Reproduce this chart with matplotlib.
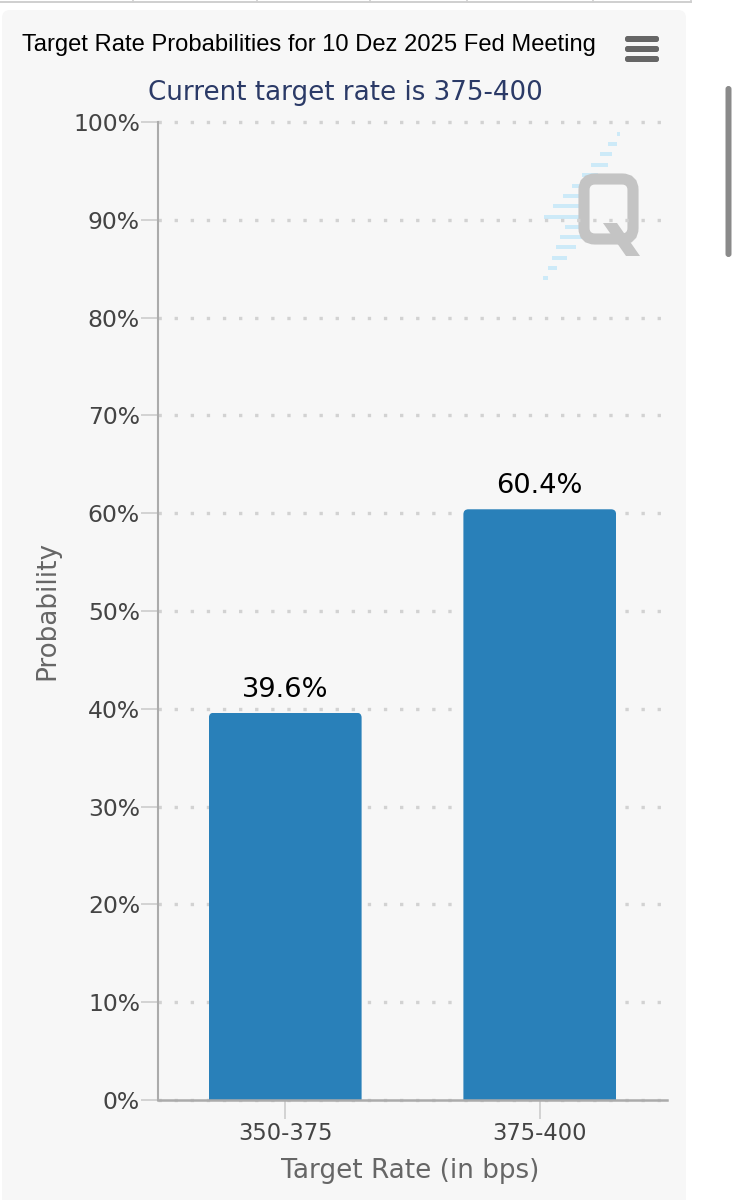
import matplotlib
matplotlib.use('Agg')
import matplotlib.pyplot as plt
from matplotlib.patches import FancyBboxPatch, Polygon, Rectangle

# Данные графика
categories = ['350-375', '375-400']
probabilities = [39.6, 60.4]
bar_labels = ['39.6%', '60.4%']
y_ticks = [0, 10, 20, 30, 40, 50, 60, 70, 80, 90, 100]
y_tick_labels = ['0%', '10%', '20%', '30%', '40%', '50%', '60%', '70%', '80%', '90%', '100%']

title = 'Target Rate Probabilities for 10 Dez 2025 Fed Meeting'
subtitle = 'Current target rate is 375-400'
x_label = 'Target Rate (in bps)'
y_label = 'Probability'

# Полоски логотипа: y, x0, x1 (в пикселях)
logo_stripes = [
    (134, 617, 620), (144, 608, 617), (154, 600, 612), (165, 591, 608),
    (175, 582, 598), (186, 572, 583), (196, 563, 580), (206, 553, 579),
    (217, 544, 579), (227, 565, 579), (237, 560, 582), (247, 556, 576),
    (258, 552, 567), (268, 548, 557), (278, 543, 548),
]
table_columns = [133, 257, 370, 467, 593, 691]

W, H = 737, 1200
fig = plt.figure(figsize=(W / 100, H / 100), dpi=100, facecolor='white')

# Фон страницы в пикселях
bg = fig.add_axes([0, 0, 1, 1], zorder=0)
bg.set_xlim(0, W)
bg.set_ylim(H, 0)
bg.axis('off')

bg.add_patch(FancyBboxPatch((2, 10), 684, 1200, boxstyle='round,pad=0,rounding_size=8',
                            fc='#f7f7f7', ec='none'))

# Край таблицы сверху
bg.plot([0, 691], [2, 2], color='#cfcfcf', lw=1.4)
for x in table_columns:
    bg.plot([x, x], [0, 2], color='#cfcfcf', lw=1.2)

# Кнопка меню
for y in (36, 46, 56):
    bg.add_patch(FancyBboxPatch((625, y), 34, 6, boxstyle='round,pad=0,rounding_size=2.5',
                                fc='#666666', ec='none'))

# Полоса прокрутки
bg.add_patch(FancyBboxPatch((725.5, 86), 6, 171, boxstyle='round,pad=0,rounding_size=3',
                            fc='#8a8a8a', ec='none'))

# Логотип
for y, x0, x1 in logo_stripes:
    bg.add_patch(Rectangle((x0, y - 1.7), x1 - x0, 3.4, fc='#cdeaf8', ec='none'))
bg.add_patch(FancyBboxPatch((584, 179), 49, 60, boxstyle='round,pad=0,rounding_size=11',
                            fc='none', ec='#c4c4c4', lw=8))
bg.add_patch(Polygon([(603, 223), (617, 223), (640, 256), (626, 256)], fc='#c4c4c4', ec='none'))

# Основной график
ax = fig.add_axes([158 / W, 1 - 1100 / H, 509 / W, 978 / H], zorder=1)
ax.patch.set_alpha(0)
ax.set_xlim(-0.5, 1.5)
ax.set_ylim(0, 100)

ax.set_axisbelow(True)
ax.yaxis.grid(True, color='#d2d2d2', lw=2.4, linestyle=(0, (1, 3.83)), clip_on=False)

bars = ax.bar(range(len(categories)), probabilities, width=0.6, color='#2980b9', zorder=2)

# Скругляем верхние углы через обрезку
units_x = 2 / 509
units_y = 100 / 978
for bar in bars:
    rounded = FancyBboxPatch((bar.get_x(), -5), bar.get_width(), bar.get_height() + 5,
                             boxstyle='round,pad=0,rounding_size=%f' % (5 * units_x),
                             mutation_aspect=units_y / units_x, transform=ax.transData)
    bar.set_clip_path(rounded)

for bar, label in zip(bars, bar_labels):
    ax.annotate(label, (bar.get_x() + bar.get_width() / 2, bar.get_height()),
                xytext=(0, 10), textcoords='offset pixels', ha='center', va='bottom',
                fontsize=19.6, color='black', family='DejaVu Sans')

ax.set_xticks(range(len(categories)))
ax.set_xticklabels(categories)
ax.set_yticks(y_ticks)
ax.set_yticklabels(y_tick_labels)
ax.tick_params(axis='x', length=14, width=1.4, color='#d2d2d2', pad=2,
               labelsize=16.3, labelcolor='#444444')
ax.tick_params(axis='y', length=12.5, width=1.4, color='#d2d2d2', pad=0.5,
               labelsize=16.9, labelcolor='#444444')

for side in ('top', 'right'):
    ax.spines[side].set_visible(False)
ax.spines['left'].set_color('#ababab')
ax.spines['left'].set_linewidth(1.5)
ax.spines['bottom'].set_color('#ababab')
ax.spines['bottom'].set_linewidth(1.8)

# Подписи в координатах страницы
bg.text(22, 45.5, title, ha='left', va='center', fontsize=17.1, color='black',
        family='Liberation Sans')
bg.text(345.5, 92.5, subtitle, ha='center', va='center', fontsize=18.8, color='#2b3a67',
        family='DejaVu Sans')
bg.text(410, 1171, x_label, ha='center', va='center', fontsize=18.9, color='#666666',
        family='DejaVu Sans')
bg.text(47, 611, y_label, ha='center', va='center', rotation=90, fontsize=18.9, color='#666666',
        family='DejaVu Sans')

fig.savefig('out.png', dpi=100)
